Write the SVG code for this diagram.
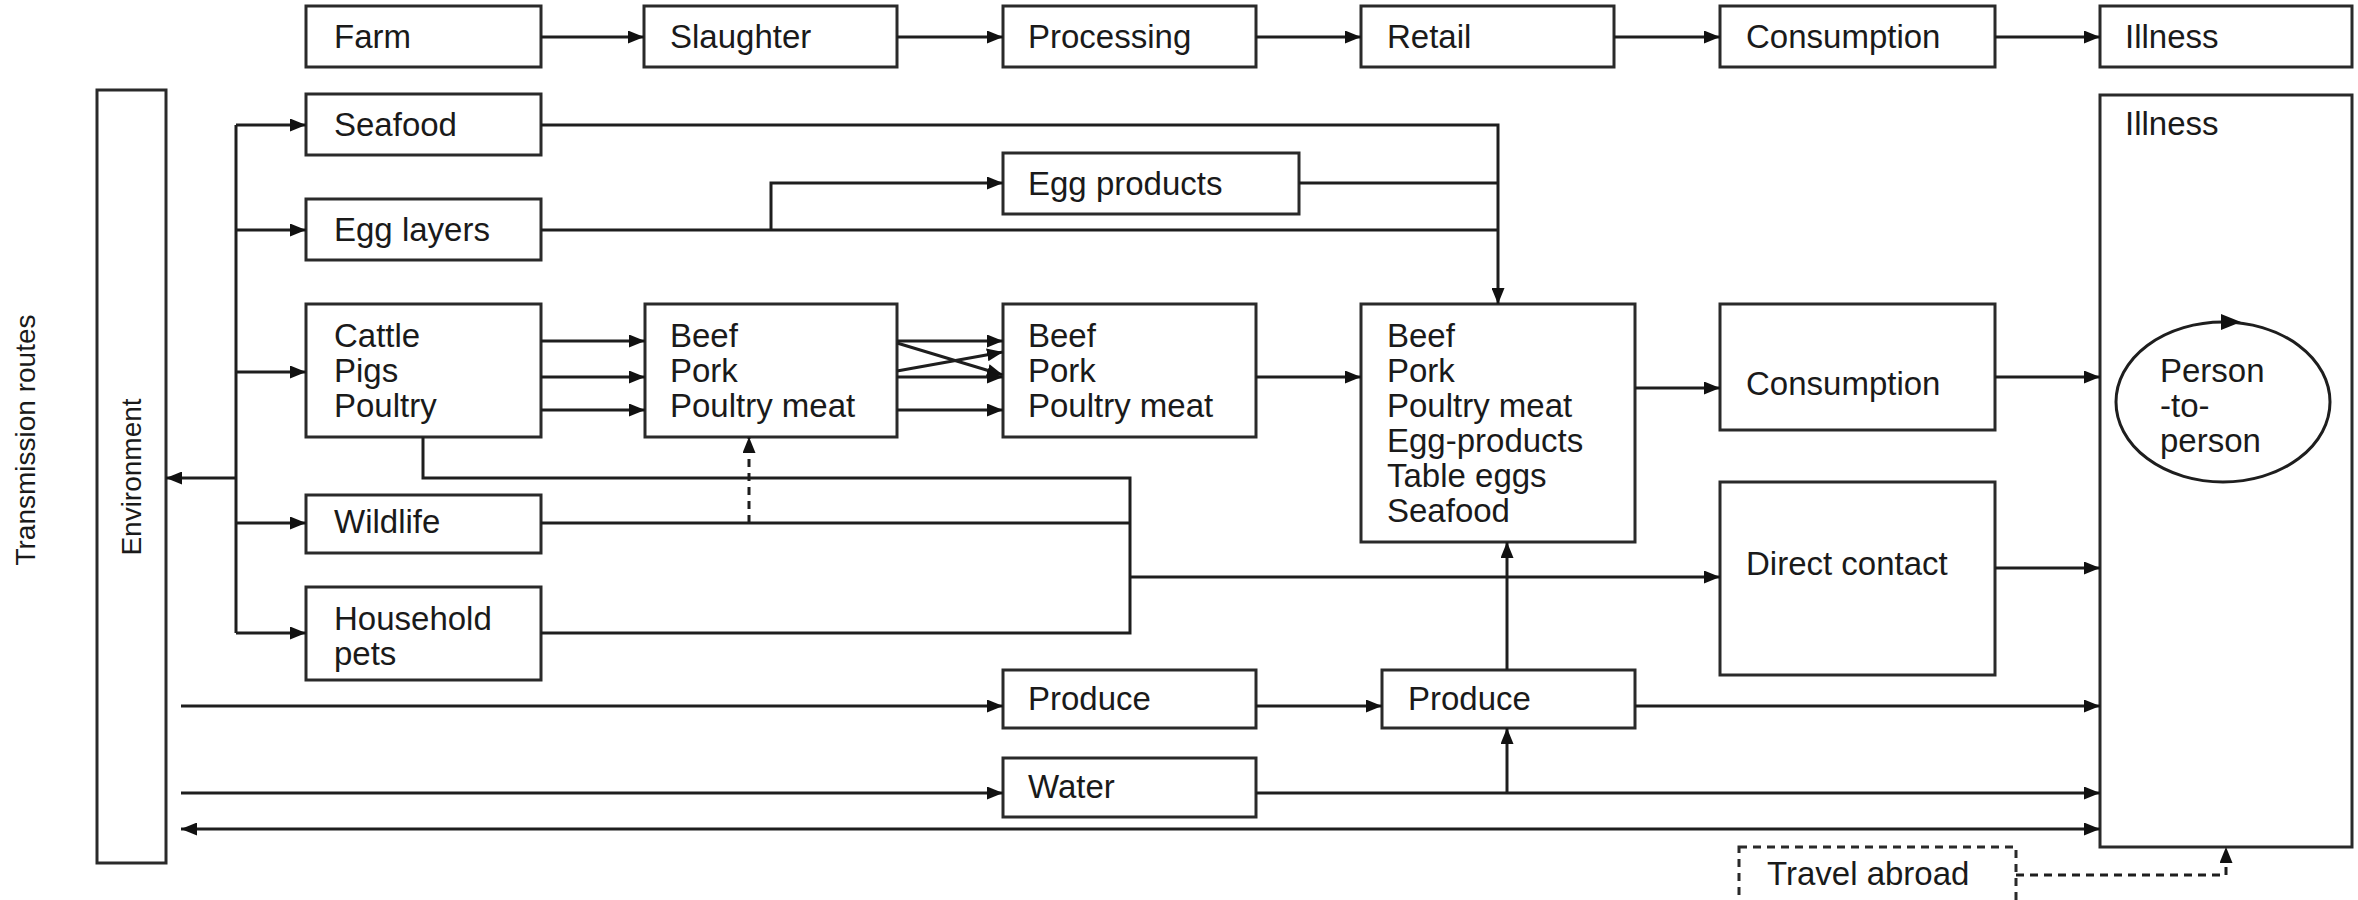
<svg xmlns="http://www.w3.org/2000/svg" width="2358" height="900" viewBox="0 0 2358 900">
<style>
.box{fill:#fff;stroke:#2a2a2a;stroke-width:3}
.dbox{fill:#fff;stroke:#2a2a2a;stroke-width:3;stroke-dasharray:8,6}
.t{font-family:"Liberation Sans",Arial,sans-serif;font-size:33px;fill:#1a1a1a}
.rt{font-family:"Liberation Sans",Arial,sans-serif;font-size:28px;fill:#1a1a1a}
.c{fill:none;stroke:#1e1e1e;stroke-width:3}
.a{marker-end:url(#ah)}
.dash{stroke-dasharray:8,6}
</style>
<defs>
<marker id="ah" viewBox="0 0 16 13" refX="16" refY="6.5" markerWidth="16" markerHeight="13" markerUnits="userSpaceOnUse" orient="auto-start-reverse">
<path d="M0,0 L16,6.5 L0,13 z" fill="#111"/>
</marker>
</defs>
<rect width="2358" height="900" fill="#fff"/>

<text class="rt" transform="translate(35,440) rotate(-90)" text-anchor="middle">Transmission routes</text>

<g id="environment"><rect class="box" x="97" y="90" width="69" height="773"/><text class="rt" transform="translate(141,477) rotate(-90)" text-anchor="middle">Environment</text></g>

<g id="farm"><rect class="box" x="306" y="6" width="235" height="61"/><text class="t" x="334" y="48">Farm</text></g>
<g id="slaughter"><rect class="box" x="644" y="6" width="253" height="61"/><text class="t" x="670" y="48">Slaughter</text></g>
<g id="processing"><rect class="box" x="1003" y="6" width="253" height="61"/><text class="t" x="1028" y="48">Processing</text></g>
<g id="retail"><rect class="box" x="1361" y="6" width="253" height="61"/><text class="t" x="1387" y="48">Retail</text></g>
<g id="consumption-top"><rect class="box" x="1720" y="6" width="275" height="61"/><text class="t" x="1746" y="48">Consumption</text></g>
<g id="illness-top"><rect class="box" x="2100" y="6" width="252" height="61"/><text class="t" x="2125" y="48">Illness</text></g>

<g id="seafood"><rect class="box" x="306" y="94" width="235" height="61"/><text class="t" x="334" y="136">Seafood</text></g>
<g id="egg-layers"><rect class="box" x="306" y="199" width="235" height="61"/><text class="t" x="334" y="241">Egg layers</text></g>
<g id="egg-products"><rect class="box" x="1003" y="153" width="296" height="61"/><text class="t" x="1028" y="195">Egg products</text></g>

<g id="animals"><rect class="box" x="306" y="304" width="235" height="133"/><text class="t" x="334" y="347">Cattle</text><text class="t" x="334" y="382">Pigs</text><text class="t" x="334" y="417">Poultry</text></g>
<g id="meat-slaughter"><rect class="box" x="645" y="304" width="252" height="133"/><text class="t" x="670" y="347">Beef</text><text class="t" x="670" y="382">Pork</text><text class="t" x="670" y="417">Poultry meat</text></g>
<g id="meat-processing"><rect class="box" x="1003" y="304" width="253" height="133"/><text class="t" x="1028" y="347">Beef</text><text class="t" x="1028" y="382">Pork</text><text class="t" x="1028" y="417">Poultry meat</text></g>
<g id="retail-products"><rect class="box" x="1361" y="304" width="274" height="238"/><text class="t" x="1387" y="347">Beef</text><text class="t" x="1387" y="382">Pork</text><text class="t" x="1387" y="417">Poultry meat</text><text class="t" x="1387" y="452">Egg-products</text><text class="t" x="1387" y="487">Table eggs</text><text class="t" x="1387" y="522">Seafood</text></g>
<g id="consumption"><rect class="box" x="1720" y="304" width="275" height="126"/><text class="t" x="1746" y="395">Consumption</text></g>
<g id="direct-contact"><rect class="box" x="1720" y="482" width="275" height="193"/><text class="t" x="1746" y="575">Direct contact</text></g>

<g id="illness"><rect class="box" x="2100" y="95" width="252" height="752"/><text class="t" x="2125" y="135">Illness</text></g>
<g id="person-to-person"><ellipse cx="2223" cy="402" rx="107" ry="80" fill="none" stroke="#1e1e1e" stroke-width="3"/><polygon points="2221,314 2241,322 2221,330" fill="#111"/><text class="t" x="2160" y="382">Person</text><text class="t" x="2160" y="417">-to-</text><text class="t" x="2160" y="452">person</text></g>

<g id="wildlife"><rect class="box" x="306" y="495" width="235" height="58"/><text class="t" x="334" y="533">Wildlife</text></g>
<g id="household-pets"><rect class="box" x="306" y="587" width="235" height="93"/><text class="t" x="334" y="630">Household</text><text class="t" x="334" y="665">pets</text></g>

<g id="produce-processing"><rect class="box" x="1003" y="670" width="253" height="58"/><text class="t" x="1028" y="710">Produce</text></g>
<g id="produce-retail"><rect class="box" x="1382" y="670" width="253" height="58"/><text class="t" x="1408" y="710">Produce</text></g>
<g id="water"><rect class="box" x="1003" y="758" width="253" height="59"/><text class="t" x="1028" y="798">Water</text></g>
<g id="travel-abroad"><rect class="dbox" x="1739" y="847" width="277" height="62"/><text class="t" x="1767" y="885">Travel abroad</text></g>

<g id="connectors">
<path class="c a" d="M541,37 H644"/>
<path class="c a" d="M897,37 H1003"/>
<path class="c a" d="M1256,37 H1361"/>
<path class="c a" d="M1614,37 H1720"/>
<path class="c a" d="M1995,37 H2100"/>

<path class="c" d="M236,125 V633"/>
<path class="c a" d="M236,125 H306"/>
<path class="c a" d="M236,230 H306"/>
<path class="c a" d="M236,372 H306"/>
<path class="c a" d="M236,523 H306"/>
<path class="c a" d="M236,633 H306"/>
<path class="c a" d="M236,478 H166"/>

<path class="c a" d="M541,125 H1498 V304"/>
<path class="c" d="M541,230 H1498"/>
<path class="c" d="M1299,183 H1498"/>
<path class="c a" d="M771,230 V183 H1003"/>

<path class="c a" d="M541,341 H645"/>
<path class="c a" d="M541,377 H645"/>
<path class="c a" d="M541,410 H645"/>

<path class="c a" d="M897,341 H1003"/>
<path class="c a" d="M897,343 L1003,375"/>
<path class="c a" d="M897,371 L1003,352"/>
<path class="c a" d="M897,377 H1003"/>
<path class="c a" d="M897,410 H1003"/>

<path class="c a" d="M1256,377 H1361"/>
<path class="c a" d="M1635,388 H1720"/>
<path class="c a" d="M1995,377 H2100"/>
<path class="c a" d="M1995,568 H2100"/>

<path class="c" d="M423,437 V478 H1130 V633 H541"/>
<path class="c" d="M541,523 H1130"/>
<path class="c a" d="M1130,577 H1720"/>
<path class="c a dash" d="M749,523 V437"/>

<path class="c a" d="M181,706 H1003"/>
<path class="c a" d="M1256,706 H1382"/>
<path class="c a" d="M1635,706 H2100"/>
<path class="c a" d="M1507,670 V542"/>
<path class="c a" d="M181,793 H1003"/>
<path class="c a" d="M1256,793 H2100"/>
<path class="c a" d="M1507,793 V728"/>
<path class="c" d="M181,829 H2100" marker-start="url(#ah)" marker-end="url(#ah)"/>
<path class="c a dash" d="M2016,875 H2226 V847"/>
</g>
</svg>
